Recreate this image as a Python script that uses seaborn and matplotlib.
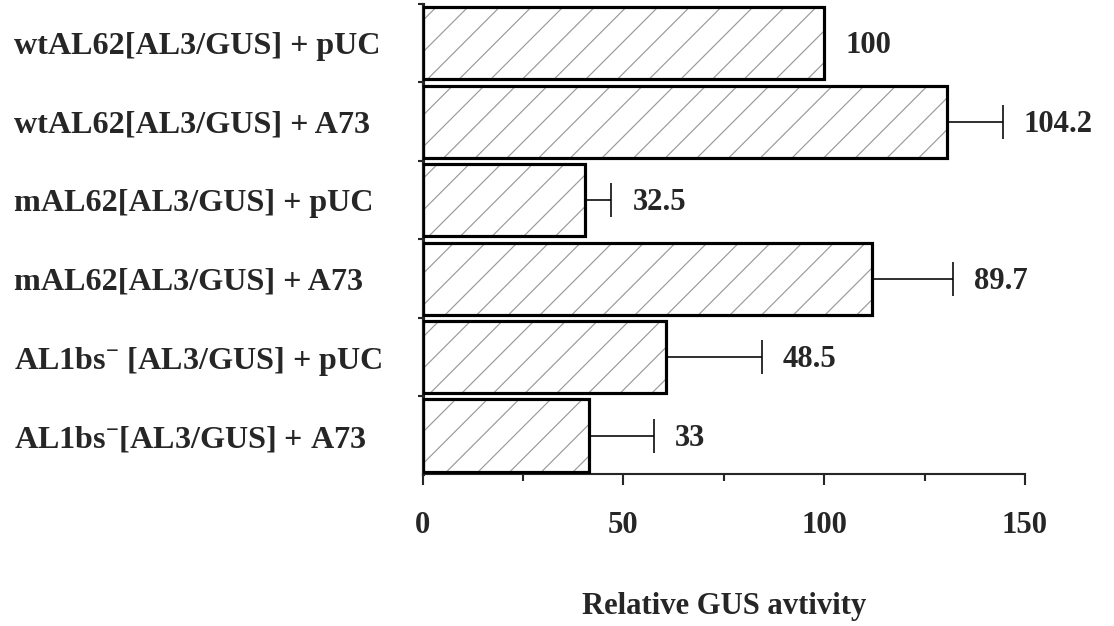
import matplotlib
matplotlib.use("Agg")
import matplotlib.pyplot as plt
from matplotlib.patches import Rectangle
from matplotlib.ticker import MultipleLocator, FixedLocator
import numpy as np
import pandas as pd
import seaborn as sns

# values
constructs = ["wtAL62[AL3/GUS] + pUC",
              "wtAL62[AL3/GUS] + A73",
              "mAL62[AL3/GUS] + pUC",
              "mAL62[AL3/GUS] + A73",
              "AL1bs$^{-}$ [AL3/GUS] + pUC",
              "AL1bs$^{-}$[AL3/GUS] + A73"]
activity = [100, 130.5, 40.5, 112, 60.5, 41.5]
error = [0, 14, 6.5, 20, 24, 16]
bar_labels = ["100", "104.2", "32.5", "89.7", "48.5", "33"]

DPI = 190
FS = 11.6
sns.set_style("ticks")
plt.rcParams['font.family'] = ['Liberation Serif', 'DejaVu Serif']
plt.rcParams['font.weight'] = 'bold'
plt.rcParams['mathtext.fontset'] = 'custom'
plt.rcParams['mathtext.rm'] = 'Liberation Serif:bold'
plt.rcParams['mathtext.bf'] = 'Liberation Serif:bold'
plt.rcParams['mathtext.default'] = 'rm'
plt.rcParams['hatch.linewidth'] = 0.45

df = pd.DataFrame({"construct": constructs, "activity": activity})

fig = plt.figure(figsize=(1114 / DPI, 626 / DPI), dpi=DPI)
ax = fig.add_axes([0.3795, 0.2428, 0.5405, 0.7508])

sns.barplot(data=df, x="activity", y="construct", orient="h", ax=ax,
            color="white", edgecolor="#9a9a9a", linewidth=0, hatch="//",
            width=0.92, errorbar=None)

bars = list(ax.patches)
centers = [p.get_y() + p.get_height() / 2 for p in bars]
ends = [p.get_x() + p.get_width() for p in bars]

# one sided error bars
ax.errorbar(ends, centers, xerr=[np.zeros(len(error)), error], fmt="none",
            ecolor="black", elinewidth=0.6, capsize=6.3, capthick=0.6, zorder=3)

# thick black outline on top of the hatching
for p in bars:
    ax.add_patch(Rectangle(p.get_xy(), p.get_width(), p.get_height(),
                           fill=False, edgecolor="black", linewidth=1.2, zorder=4))

for x, y, e, txt in zip(ends, centers, error, bar_labels):
    ax.annotate(txt, xy=(x + e, y), xytext=(8, -1), textcoords="offset points",
                va="center", ha="left", fontsize=FS, fontweight="bold")

ax.set_xlim(0, 150)
ax.set_ylim(5.49, -0.5)
ax.xaxis.set_major_locator(MultipleLocator(50))
ax.xaxis.set_minor_locator(MultipleLocator(25))
ax.yaxis.set_minor_locator(FixedLocator(np.arange(-0.5, 5.6, 1.0)))

ax.tick_params(axis="x", which="major", length=4.2, width=0.8, pad=10, labelsize=FS)
ax.tick_params(axis="x", which="minor", length=2.6, width=0.8)
# labels are left aligned near the figure edge
ax.tick_params(axis="y", which="major", length=0, pad=(422 - 13) * 72 / DPI, labelsize=12.2)
ax.tick_params(axis="y", which="minor", length=2, width=0.8)
for lab in ax.get_yticklabels():
    lab.set_horizontalalignment("left")

sns.despine(ax=ax)
ax.spines["left"].set_linewidth(1.2)
ax.spines["bottom"].set_linewidth(0.8)

ax.set_ylabel("")
ax.set_xlabel("Relative GUS avtivity", fontsize=FS, fontweight="bold", labelpad=19.5)

fig.savefig("out.png", dpi=DPI)
